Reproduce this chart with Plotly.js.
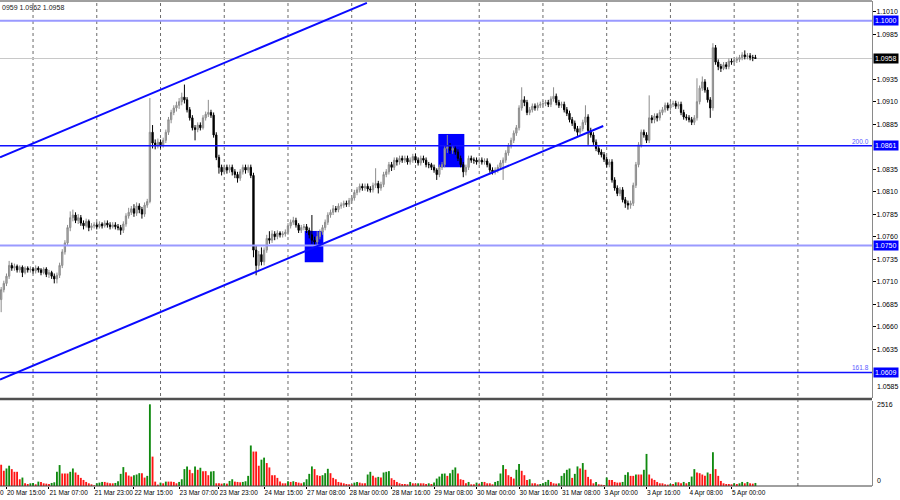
<!DOCTYPE html>
<html><head><meta charset="utf-8">
<script src="https://cdn.plot.ly/plotly-3.0.1.min.js"></script>
<style>html,body{margin:0;padding:0;background:#fff}#chart{width:900px;height:500px}</style>
</head><body><div id="chart"></div>
<script>
// H1 bars, bar index counted from 20 Mar 00:00 (weekend skipped)
const firstBar = 12;
const opens = [
1.0690,1.0701,1.0708,1.0716,1.0728,1.0725,1.0727,1.0723,1.0726,1.0720,
1.0725,1.0723,1.0724,1.0722,1.0725,1.0723,1.0720,1.0724,1.0718,1.0720,
1.0716,1.0713,1.0717,1.0728,1.0743,1.0753,1.0770,1.0781,1.0784,1.0778,
1.0781,1.0775,1.0772,1.0777,1.0770,1.0772,1.0773,1.0771,1.0774,1.0772,
1.0775,1.0773,1.0771,1.0773,1.0771,1.0770,1.0767,1.0774,1.0783,1.0787,
1.0791,1.0786,1.0794,1.0790,1.0785,1.0795,1.0799,1.0876,1.0864,1.0862,
1.0865,1.0862,1.0867,1.0876,1.0890,1.0898,1.0903,1.0906,1.0910,1.0915,
1.0912,1.0901,1.0892,1.0881,1.0879,1.0884,1.0881,1.0892,1.0896,1.0898,
1.0895,1.0873,1.0848,1.0837,1.0832,1.0837,1.0834,1.0837,1.0832,1.0829,
1.0825,1.0832,1.0837,1.0834,1.0837,1.0828,1.0745,1.0728,1.0740,1.0732,
1.0745,1.0758,1.0756,1.0763,1.0760,1.0764,1.0762,1.0763,1.0765,1.0772,
1.0776,1.0778,1.0773,1.0767,1.0770,1.0771,1.0767,1.0762,1.0756,1.0754,
1.0760,1.0765,1.0770,1.0776,1.0784,1.0787,1.0791,1.0790,1.0794,1.0795,
1.0797,1.0796,1.0800,1.0803,1.0809,1.0812,1.0816,1.0814,1.0816,1.0813,
1.0812,1.0817,1.0819,1.0814,1.0818,1.0829,1.0832,1.0840,1.0837,1.0845,
1.0843,1.0847,1.0845,1.0847,1.0843,1.0845,1.0849,1.0845,1.0842,1.0847,
1.0845,1.0840,1.0840,1.0837,1.0834,1.0829,1.0837,1.0840,1.0858,1.0860,
1.0856,1.0858,1.0854,1.0847,1.0840,1.0832,1.0837,1.0847,1.0845,1.0845,
1.0843,1.0845,1.0843,1.0844,1.0840,1.0834,1.0832,1.0834,1.0837,1.0842,
1.0845,1.0853,1.0861,1.0867,1.0875,1.0881,1.0903,1.0912,1.0909,1.0898,
1.0901,1.0905,1.0903,1.0906,1.0907,1.0908,1.0909,1.0907,1.0913,1.0916,
1.0909,1.0906,1.0907,1.0901,1.0897,1.0890,1.0886,1.0880,1.0876,1.0880,
1.0887,1.0893,1.0878,1.0873,1.0865,1.0858,1.0854,1.0851,1.0846,1.0840,
1.0843,1.0823,1.0814,1.0808,1.0812,1.0801,1.0797,1.0795,1.0797,1.0817,
1.0840,1.0862,1.0876,1.0873,1.0867,1.0892,1.0890,1.0894,1.0892,1.0898,
1.0901,1.0906,1.0903,1.0907,1.0908,1.0905,1.0907,1.0898,1.0893,1.0892,
1.0890,1.0887,1.0892,1.0910,1.0925,1.0932,1.0923,1.0912,1.0903,1.0970,
1.0954,1.0949,1.0947,1.0951,1.0949,1.0955,1.0954,1.0956,1.0957,1.0959,
1.0962,1.0960,1.0961,1.0959,1.0959];
const highs = [
1.0704,1.0711,1.0719,1.0733,1.0731,1.0730,1.0729,1.0728,1.0728,1.0727,
1.0727,1.0727,1.0726,1.0728,1.0727,1.0725,1.0726,1.0726,1.0723,1.0722,
1.0719,1.0720,1.0731,1.0746,1.0756,1.0773,1.0788,1.0790,1.0787,1.0785,
1.0784,1.0778,1.0780,1.0779,1.0775,1.0776,1.0776,1.0777,1.0776,1.0778,
1.0778,1.0776,1.0776,1.0776,1.0774,1.0773,1.0777,1.0786,1.0792,1.0794,
1.0796,1.0798,1.0797,1.0793,1.0798,1.0802,1.0914,1.0884,1.0868,1.0869,
1.0868,1.0870,1.0879,1.0893,1.0901,1.0906,1.0910,1.0914,1.0920,1.0929,
1.0915,1.0904,1.0895,1.0884,1.0887,1.0887,1.0895,1.0899,1.0912,1.0901,
1.0898,1.0876,1.0851,1.0840,1.0840,1.0840,1.0840,1.0840,1.0835,1.0832,
1.0835,1.0840,1.0840,1.0840,1.0840,1.0831,1.0750,1.0744,1.0748,1.0748,
1.0762,1.0766,1.0767,1.0766,1.0767,1.0766,1.0766,1.0768,1.0775,1.0779,
1.0782,1.0781,1.0775,1.0773,1.0774,1.0774,1.0770,1.0784,1.0760,1.0766,
1.0768,1.0773,1.0779,1.0787,1.0790,1.0795,1.0794,1.0797,1.0798,1.0800,
1.0800,1.0803,1.0806,1.0812,1.0815,1.0819,1.0819,1.0819,1.0819,1.0816,
1.0820,1.0836,1.0822,1.0821,1.0832,1.0835,1.0843,1.0843,1.0848,1.0848,
1.0850,1.0850,1.0850,1.0850,1.0848,1.0852,1.0852,1.0848,1.0850,1.0850,
1.0848,1.0843,1.0842,1.0840,1.0836,1.0840,1.0843,1.0861,1.0873,1.0864,
1.0861,1.0861,1.0857,1.0850,1.0843,1.0840,1.0850,1.0850,1.0848,1.0848,
1.0848,1.0848,1.0847,1.0847,1.0842,1.0837,1.0837,1.0840,1.0845,1.0848,
1.0856,1.0864,1.0870,1.0878,1.0884,1.0906,1.0926,1.0916,1.0912,1.0904,
1.0908,1.0908,1.0909,1.0910,1.0911,1.0912,1.0912,1.0916,1.0926,1.0919,
1.0912,1.0910,1.0910,1.0904,1.0900,1.0893,1.0889,1.0883,1.0883,1.0890,
1.0906,1.0896,1.0881,1.0876,1.0868,1.0861,1.0857,1.0854,1.0849,1.0846,
1.0846,1.0826,1.0817,1.0815,1.0815,1.0804,1.0800,1.0800,1.0820,1.0843,
1.0865,1.0879,1.0879,1.0876,1.0917,1.0895,1.0897,1.0897,1.0901,1.0904,
1.0909,1.0909,1.0910,1.0911,1.0911,1.0910,1.0910,1.0901,1.0896,1.0895,
1.0893,1.0895,1.0936,1.0928,1.0938,1.0935,1.0926,1.0915,1.0975,1.0973,
1.0957,1.0952,1.0954,1.0954,1.0958,1.0958,1.0959,1.0960,1.0962,1.0965,
1.0967,1.0964,1.0964,1.0962,1.0962];
const lows = [
1.0676,1.0698,1.0705,1.0713,1.0722,1.0722,1.0720,1.0720,1.0715,1.0718,
1.0720,1.0720,1.0719,1.0719,1.0720,1.0717,1.0718,1.0715,1.0714,1.0713,
1.0708,1.0708,1.0714,1.0725,1.0740,1.0750,1.0766,1.0777,1.0775,1.0774,
1.0772,1.0768,1.0770,1.0766,1.0767,1.0769,1.0768,1.0769,1.0769,1.0770,
1.0770,1.0768,1.0769,1.0768,1.0767,1.0762,1.0764,1.0771,1.0780,1.0784,
1.0782,1.0783,1.0786,1.0780,1.0782,1.0792,1.0797,1.0858,1.0857,1.0858,
1.0858,1.0859,1.0864,1.0873,1.0886,1.0895,1.0899,1.0902,1.0906,1.0908,
1.0898,1.0889,1.0878,1.0867,1.0876,1.0878,1.0879,1.0889,1.0893,1.0892,
1.0870,1.0845,1.0830,1.0828,1.0829,1.0830,1.0831,1.0828,1.0825,1.0820,
1.0822,1.0829,1.0830,1.0831,1.0825,1.0737,1.0717,1.0722,1.0728,1.0728,
1.0742,1.0752,1.0753,1.0756,1.0757,1.0759,1.0759,1.0760,1.0762,1.0769,
1.0773,1.0770,1.0764,1.0764,1.0767,1.0764,1.0758,1.0752,1.0750,1.0751,
1.0757,1.0762,1.0767,1.0773,1.0781,1.0784,1.0787,1.0787,1.0791,1.0792,
1.0793,1.0793,1.0797,1.0800,1.0806,1.0809,1.0811,1.0811,1.0810,1.0809,
1.0809,1.0814,1.0808,1.0811,1.0815,1.0826,1.0829,1.0833,1.0834,1.0839,
1.0840,1.0842,1.0842,1.0840,1.0840,1.0842,1.0842,1.0839,1.0839,1.0842,
1.0837,1.0836,1.0834,1.0831,1.0823,1.0826,1.0834,1.0837,1.0853,1.0852,
1.0852,1.0851,1.0844,1.0837,1.0826,1.0828,1.0834,1.0842,1.0841,1.0840,
1.0840,1.0840,1.0840,1.0837,1.0831,1.0829,1.0829,1.0831,1.0834,1.0823,
1.0842,1.0850,1.0858,1.0864,1.0872,1.0878,1.0900,1.0905,1.0895,1.0895,
1.0898,1.0900,1.0900,1.0903,1.0904,1.0905,1.0904,1.0904,1.0910,1.0906,
1.0903,1.0903,1.0898,1.0894,1.0887,1.0883,1.0877,1.0872,1.0873,1.0877,
1.0884,1.0862,1.0870,1.0862,1.0855,1.0851,1.0848,1.0843,1.0837,1.0837,
1.0820,1.0811,1.0805,1.0805,1.0798,1.0792,1.0790,1.0791,1.0794,1.0814,
1.0837,1.0859,1.0870,1.0864,1.0864,1.0886,1.0886,1.0888,1.0889,1.0895,
1.0898,1.0900,1.0900,1.0904,1.0902,1.0902,1.0895,1.0890,1.0889,1.0887,
1.0884,1.0884,1.0889,1.0907,1.0922,1.0920,1.0909,1.0892,1.0900,1.0951,
1.0945,1.0943,1.0945,1.0946,1.0946,1.0951,1.0951,1.0953,1.0954,1.0956,
1.0957,1.0957,1.0956,1.0955,1.0958];
const closes = [
1.0701,1.0708,1.0716,1.0728,1.0725,1.0727,1.0723,1.0726,1.0720,1.0725,
1.0723,1.0724,1.0722,1.0725,1.0723,1.0720,1.0724,1.0718,1.0720,1.0716,
1.0713,1.0717,1.0728,1.0743,1.0753,1.0770,1.0781,1.0784,1.0778,1.0781,
1.0775,1.0772,1.0777,1.0770,1.0772,1.0773,1.0771,1.0774,1.0772,1.0775,
1.0773,1.0771,1.0773,1.0771,1.0770,1.0767,1.0774,1.0783,1.0787,1.0791,
1.0786,1.0794,1.0790,1.0785,1.0795,1.0799,1.0876,1.0864,1.0862,1.0865,
1.0862,1.0867,1.0876,1.0890,1.0898,1.0903,1.0906,1.0910,1.0915,1.0912,
1.0901,1.0892,1.0881,1.0879,1.0884,1.0881,1.0892,1.0896,1.0898,1.0895,
1.0873,1.0848,1.0837,1.0832,1.0837,1.0834,1.0837,1.0832,1.0829,1.0825,
1.0832,1.0837,1.0834,1.0837,1.0828,1.0745,1.0728,1.0740,1.0732,1.0745,
1.0758,1.0756,1.0763,1.0760,1.0764,1.0762,1.0763,1.0765,1.0772,1.0776,
1.0778,1.0773,1.0767,1.0770,1.0771,1.0767,1.0762,1.0756,1.0754,1.0760,
1.0765,1.0770,1.0776,1.0784,1.0787,1.0791,1.0790,1.0794,1.0795,1.0797,
1.0796,1.0800,1.0803,1.0809,1.0812,1.0816,1.0814,1.0816,1.0813,1.0812,
1.0817,1.0819,1.0814,1.0818,1.0829,1.0832,1.0840,1.0837,1.0845,1.0843,
1.0847,1.0845,1.0847,1.0843,1.0845,1.0849,1.0845,1.0842,1.0847,1.0845,
1.0840,1.0840,1.0837,1.0834,1.0829,1.0837,1.0840,1.0858,1.0860,1.0856,
1.0858,1.0854,1.0847,1.0840,1.0832,1.0837,1.0847,1.0845,1.0845,1.0843,
1.0845,1.0843,1.0844,1.0840,1.0834,1.0832,1.0834,1.0837,1.0842,1.0845,
1.0853,1.0861,1.0867,1.0875,1.0881,1.0903,1.0912,1.0909,1.0898,1.0901,
1.0905,1.0903,1.0906,1.0907,1.0908,1.0909,1.0907,1.0913,1.0916,1.0909,
1.0906,1.0907,1.0901,1.0897,1.0890,1.0886,1.0880,1.0876,1.0880,1.0887,
1.0893,1.0878,1.0873,1.0865,1.0858,1.0854,1.0851,1.0846,1.0840,1.0843,
1.0823,1.0814,1.0808,1.0812,1.0801,1.0797,1.0795,1.0797,1.0817,1.0840,
1.0862,1.0876,1.0873,1.0867,1.0892,1.0890,1.0894,1.0892,1.0898,1.0901,
1.0906,1.0903,1.0907,1.0908,1.0905,1.0907,1.0898,1.0893,1.0892,1.0890,
1.0887,1.0892,1.0910,1.0925,1.0932,1.0923,1.0912,1.0903,1.0970,1.0954,
1.0949,1.0947,1.0951,1.0949,1.0955,1.0954,1.0956,1.0957,1.0959,1.0962,
1.0960,1.0961,1.0959,1.0959,1.0958];
const volumes = [
655,470,540,625,520,437,437,208,260,83,
62,83,94,52,135,125,83,73,62,94,
114,437,645,385,385,385,437,540,416,343,
250,187,125,83,52,21,83,104,125,125,
104,83,83,94,146,374,582,426,322,291,
333,354,395,395,260,312,2516,905,135,42,
104,83,135,135,135,125,83,125,208,520,
603,499,395,603,499,562,458,458,333,447,
458,83,83,73,83,73,156,208,135,125,
114,125,146,312,1248,1061,1061,624,811,874,
707,572,333,333,250,135,83,83,146,125,
146,125,104,83,114,208,374,603,520,333,
312,333,395,530,395,250,208,125,104,83,
62,52,52,104,125,104,83,83,354,437,
312,260,281,260,416,437,458,239,187,125,
83,62,62,52,125,83,73,83,83,83,
62,83,62,104,229,291,374,385,312,395,
499,572,385,208,187,83,125,52,52,104,
62,125,125,83,83,52,125,156,385,645,
520,333,281,229,499,676,468,333,187,208,
83,83,52,62,83,125,187,125,83,73,
83,312,395,499,540,250,374,603,540,707,
499,281,208,83,125,52,42,31,260,187,
187,125,104,104,125,343,426,312,312,354,
354,354,499,988,354,229,187,125,83,83,
52,42,62,62,114,114,83,125,83,125,
291,520,416,395,354,312,416,374,1040,520,
312,156,83,62,62,52,83,62,83,125,
83,125,83,73,94];

const xTickBars = [14,30,47,62,79,94,111,127,143,159,175,191,207,223,239,255,271,287];
const xTickLabels = ['20 Mar 15:00','21 Mar 07:00','21 Mar 23:00','22 Mar 15:00','23 Mar 07:00','23 Mar 23:00','24 Mar 15:00','27 Mar 08:00','28 Mar 00:00','28 Mar 16:00','29 Mar 08:00','30 Mar 00:00','30 Mar 16:00','31 Mar 08:00','3 Apr 00:00','3 Apr 16:00','4 Apr 08:00','5 Apr 00:00'];
const dayGridBars = [24,48,72,96,120,144,168,192,216,240,264,288,312];
const yTickVals = [1.1010,1.0985,1.0935,1.0910,1.0885,1.0835,1.0810,1.0785,1.0760,1.0735,1.0710,1.0685,1.0660,1.0635];
const yEdgeTick = 1.0585;
const strongLevels = [1.0861, 1.0609];
const lightLevels = [1.1000, 1.0750];
const fiboLevels = [1.0861, 1.0609];
const fiboNames = ['200.0', '161.8'];
const lastPrice = 1.0958;
const volMaxLabel = 2516;
const headerText = '0959 1.0962 1.0958';
// channel lines: [bar, price] anchors
const upperChannelBars = [11.56, 149.7];
const upperChannelPrices = [1.08482, 1.10199];
const lowerChannelBars = [11.56, 238.7];
const lowerChannelPrices = [1.06012, 1.08830];
// marked zones
const zoneBarsFrom = [126.3, 176.6];
const zoneBarsTo = [133.3, 186.4];
const zonePriceLow = [1.07315, 1.08371];
const zonePriceHigh = [1.07663, 1.08741];

// choose a narrow face if it is installed, otherwise a smaller regular one
function hasFont(name) {
  const c = document.createElement('canvas').getContext('2d');
  c.font = '40px monospace';
  const a = c.measureText('1.0985 Mar Apr').width;
  c.font = '40px "' + name + '", monospace';
  const b = c.measureText('1.0985 Mar Apr').width;
  return Math.abs(a - b) > 0.5;
}
const narrow = hasFont('Liberation Sans Narrow');
const FONT = narrow ? '"Liberation Sans Narrow", sans-serif' : '"Liberation Sans", Arial, sans-serif';
const FS = narrow ? 8 : 7;
const FSX = narrow ? 8 : 6.5;

const xs = closes.map((_, i) => firstBar + i);
const volColors = volumes.map((v, i) => (i > 0 && v > volumes[i-1]) ? '#108a10' : '#ff1414');

const traces = [
  {type:'candlestick', x: xs, open: opens, high: highs, low: lows, close: closes,
   xaxis:'x', yaxis:'y', whiskerwidth:0,
   increasing:{line:{color:'#8c8c8c', width:1}, fillcolor:'#b4b4b4'},
   decreasing:{line:{color:'#000000', width:1}, fillcolor:'#000000'},
   hoverinfo:'skip', showlegend:false},
  {type:'bar', x: xs, y: volumes, xaxis:'x', yaxis:'y2', width:0.7,
   marker:{color: volColors, line:{width:0}}, hoverinfo:'skip', showlegend:false}
];

const shapes = [];
dayGridBars.forEach(b => shapes.push({type:'line', xref:'x', yref:'paper', x0:b, x1:b, y0:0, y1:1,
  line:{color:'#6a6a6a', width:1, dash:'dot'}, layer:'below'}));
shapes.push({type:'line', xref:'paper', yref:'y', x0:0, x1:1, y0:lastPrice, y1:lastPrice,
  line:{color:'#c8c8c8', width:1}, layer:'below'});
for (let k = 0; k < zoneBarsFrom.length; k++) {
  shapes.push({type:'rect', xref:'x', yref:'y', x0:zoneBarsFrom[k], x1:zoneBarsTo[k],
    y0:zonePriceLow[k], y1:zonePriceHigh[k], fillcolor:'#0000ff', line:{width:0}, layer:'below'});
}
lightLevels.forEach(p => shapes.push({type:'line', xref:'paper', yref:'y', x0:0, x1:1, y0:p, y1:p,
  line:{color:'#9a9aff', width:2}}));
strongLevels.forEach(p => shapes.push({type:'line', xref:'paper', yref:'y', x0:0, x1:1, y0:p, y1:p,
  line:{color:'#1010ff', width:1.5}}));
shapes.push({type:'line', xref:'x', yref:'y', x0:upperChannelBars[0], x1:upperChannelBars[1],
  y0:upperChannelPrices[0], y1:upperChannelPrices[1], line:{color:'#0a0aff', width:2}});
shapes.push({type:'line', xref:'x', yref:'y', x0:lowerChannelBars[0], x1:lowerChannelBars[1],
  y0:lowerChannelPrices[0], y1:lowerChannelPrices[1], line:{color:'#0a0aff', width:2}});
// frame
const sepY = (486 - 399) / 485;
shapes.push({type:'line', xref:'paper', yref:'paper', x0:0, x1:1, y0:1, y1:1, line:{color:'#404040', width:1}});
shapes.push({type:'line', xref:'paper', yref:'paper', x0:0, x1:1, y0:sepY, y1:sepY, line:{color:'#505050', width:2.5}});
shapes.push({type:'line', xref:'paper', yref:'paper', x0:0, x1:1, y0:0, y1:0, line:{color:'#404040', width:1}});

const annotations = [];
const hl = (p, bg) => ({xref:'paper', yref:'y', x:1, y:p, xanchor:'left', yanchor:'middle', xshift:1,
  text: p.toFixed(4), showarrow:false, bgcolor:bg, borderpad:1,
  font:{family:FONT, size:FS, color:'#ffffff'}});
[1.1000, 1.0861, 1.0750, 1.0609].forEach(p => annotations.push(hl(p, '#0000ff')));
annotations.push(hl(lastPrice, '#000000'));
fiboLevels.forEach((p, k) => annotations.push({xref:'paper', yref:'y', x:1, y:p, xanchor:'right', yanchor:'bottom',
  xshift:-1, yshift:-1, text:fiboNames[k], showarrow:false, font:{family:FONT, size:FS-0.5, color:'#5a5aff'}}));
annotations.push({xref:'paper', yref:'paper', x:0, y:1, xanchor:'left', yanchor:'top', yshift:-1,
  text:headerText, showarrow:false, font:{family:FONT, size:FS, color:'#202020'}});
annotations.push({xref:'paper', yref:'y', x:1, y:yEdgeTick, xanchor:'left', yanchor:'middle', xshift:3, yshift:8,
  text:yEdgeTick.toFixed(4), showarrow:false, font:{family:FONT, size:FS, color:'#000'}});
annotations.push({xref:'paper', yref:'y2', x:1, y:volMaxLabel, xanchor:'left', yanchor:'middle', xshift:3,
  text:String(volMaxLabel), showarrow:false, font:{family:FONT, size:FS, color:'#000'}});
annotations.push({xref:'paper', yref:'y2', x:1, y:0, xanchor:'left', yanchor:'bottom', xshift:3,
  text:'0', showarrow:false, font:{family:FONT, size:FS, color:'#000'}});
annotations.push({xref:'paper', yref:'paper', x:0, y:-0.013, xanchor:'left', yanchor:'middle', xshift:-2,
  text:'0', showarrow:false, font:{family:FONT, size:FSX, color:'#000'}});

const layout = {
  width:900, height:500, margin:{l:0, r:28, t:1, b:14},
  paper_bgcolor:'#ffffff', plot_bgcolor:'#ffffff', showlegend:false, hovermode:false,
  xaxis:{domain:[0,1], range:[11.56, 339.9], anchor:'y2', showgrid:false, zeroline:false,
    tickmode:'array', tickvals:xTickBars, ticktext:xTickLabels, tickangle:0, ticks:'outside', ticklen:2,
    tickcolor:'#000', ticklabelposition:'outside right', automargin:false,
    tickfont:{family:FONT, size:FSX, color:'#000'}, showline:false,
    rangeslider:{visible:false}, fixedrange:true},
  yaxis:{domain:[(486-398)/485, 1], range:[1.05806, 1.10219], side:'right', anchor:'x',
    tickmode:'array', tickvals:yTickVals, ticktext:yTickVals.map(v => v.toFixed(4)),
    ticks:'outside', ticklen:3, tickcolor:'#000', showgrid:false, zeroline:false,
    showline:true, linecolor:'#8a8a8a', linewidth:1, automargin:false, ticklabelstandoff:-1,
    tickfont:{family:FONT, size:FS, color:'#000'}},
  yaxis2:{domain:[0, (486-401)/485], range:[0, 2618], side:'right', anchor:'x',
    showticklabels:false, ticks:'', showgrid:false, zeroline:false, automargin:false,
    showline:true, linecolor:'#8a8a8a', linewidth:1},
  shapes: shapes, annotations: annotations
};

Plotly.newPlot('chart', traces, layout, {displayModeBar:false, staticPlot:true});
</script></body></html>
